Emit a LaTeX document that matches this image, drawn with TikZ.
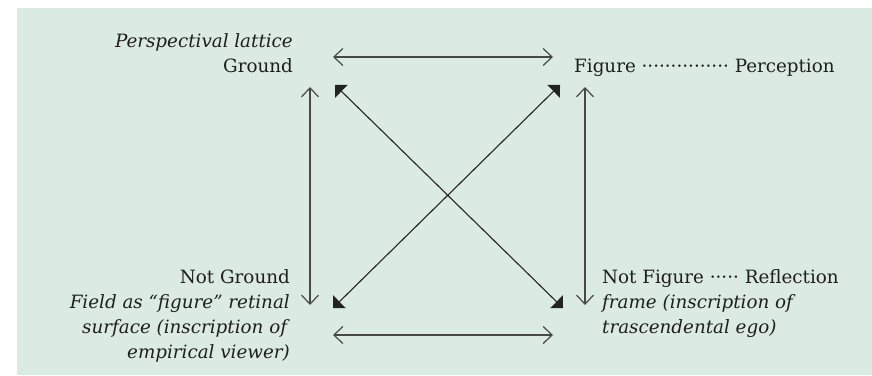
\documentclass[tikz,border=0pt]{standalone}
\usepackage{fontspec}
\setmainfont{DejaVu Serif}
\usetikzlibrary{arrows.meta}
\definecolor{bgc}{RGB}{220,234,228}
\definecolor{txtc}{RGB}{30,30,30}
\definecolor{linec}{RGB}{72,72,72}
\definecolor{diagc}{RGB}{35,35,35}
\tikzset{
  lbl/.style={inner sep=0pt, text=txtc, font=\fontsize{18.3}{25}\selectfont},
  openarrow/.style={draw=linec, line width=1.2pt,
    {Straight Barb[length=9pt,width=17pt]}-{Straight Barb[length=9pt,width=17pt]}},
  diagarrow/.style={draw=diagc, line width=1.1pt,
    {Triangle[length=9pt,width=18pt]}-{Triangle[length=9pt,width=18pt]}},
}
\begin{document}
\begin{tikzpicture}[x=1pt,y=-1pt]
\useasboundingbox (0,0) rectangle (872,375);
\fill[bgc] (17,8) rectangle (872,375);

% text blocks (base anchor = baseline of last line)
\node[lbl, align=right, anchor=base east] (tl) at (293,72)
  {\textit{Perspectival lattice}\\Ground};
\node[lbl, anchor=base west] (tr) at (574,72)
  {Figure ··············· Perception};
\node[lbl, align=right, anchor=base east] (bl) at (290,358)
  {Not Ground\\\textit{Field as “figure” retinal}\\\textit{surface (inscription of}\\\textit{empirical viewer)}};
\node[lbl, align=left, anchor=base west] (br) at (602,333)
  {Not Figure ····· Reflection\\\textit{frame (inscription of}\\\textit{trascendental ego)}};

% arrow end points
\coordinate (htl) at (333,57);
\coordinate (htr) at (553,57);
\coordinate (hbl) at (333,335);
\coordinate (hbr) at (553,335);
\coordinate (vlt) at (310,87);
\coordinate (vlb) at (310,305);
\coordinate (vrt) at (585,87);
\coordinate (vrb) at (585,305);
\coordinate (dtl) at (335,85);
\coordinate (dbr) at (563,308);
\coordinate (dtr) at (560,85);
\coordinate (dbl) at (333,308);

\draw[openarrow] (htl) -- (htr);
\draw[openarrow] (hbl) -- (hbr);
\draw[openarrow] (vlt) -- (vlb);
\draw[openarrow] (vrt) -- (vrb);
\draw[diagarrow] (dtl) -- (dbr);
\draw[diagarrow] (dtr) -- (dbl);
\end{tikzpicture}
\end{document}
